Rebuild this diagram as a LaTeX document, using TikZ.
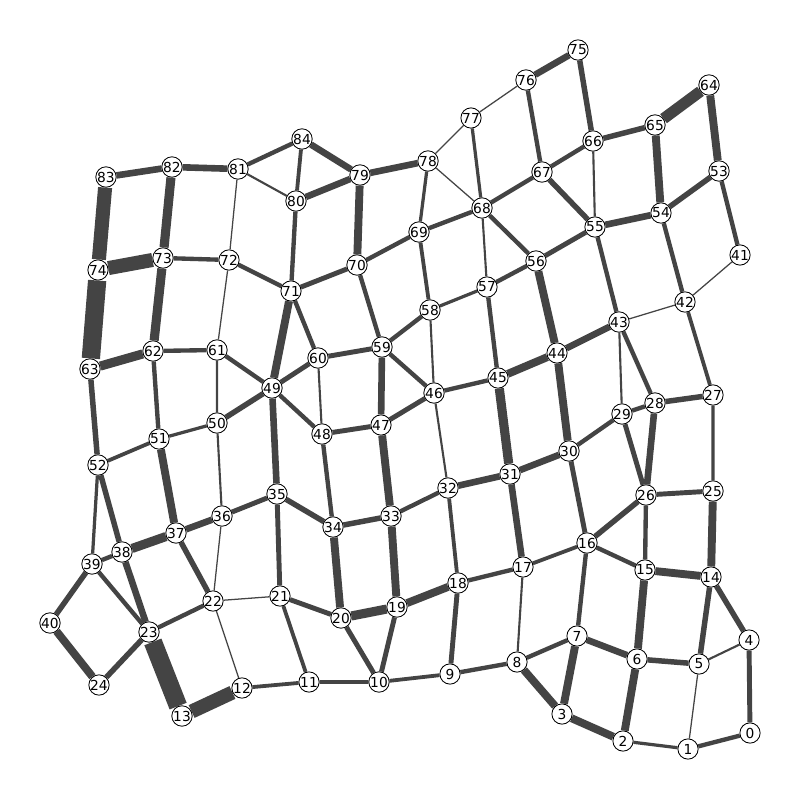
\documentclass[tikz,border=0pt]{standalone}
\usepackage{fontspec}
\setmainfont{DejaVu Sans}
\usepackage{xcolor}
\usepackage{tikz}
\usetikzlibrary{backgrounds}
\definecolor{EdgeGray}{HTML}{444444}
\tikzset{
  vertex/.style={
    circle,
    draw=black,
    line width=0.6pt,
    fill=white,
    inner sep=0pt,
    minimum size=14.4pt,
    font=\fontsize{9.8}{10}\selectfont
  },
  link/.style={draw=EdgeGray},
  wa/.style={link, line width=0.9pt},
  wb/.style={link, line width=1.5pt},
  wc/.style={link, line width=2.3pt},
  wd/.style={link, line width=2.7pt},
  we/.style={link, line width=3.1pt},
  wf/.style={link, line width=3.5pt},
  wg/.style={link, line width=3.9pt},
  wh/.style={link, line width=4.7pt},
  wi/.style={link, line width=5.6pt},
  wj/.style={link, line width=6.5pt},
  wk/.style={link, line width=8pt},
  wl/.style={link, line width=10pt},
  wm/.style={link, line width=13pt}
}

\begin{document}
\begin{tikzpicture}[x=0.025cm, y=-0.025cm]
\useasboundingbox (0,0) rectangle (800,800);
% vertices
\node[vertex] (n0) at (750,733) {0};
\node[vertex] (n1) at (688,749) {1};
\node[vertex] (n2) at (623,741) {2};
\node[vertex] (n3) at (562,714) {3};
\node[vertex] (n4) at (749,640) {4};
\node[vertex] (n5) at (699,664) {5};
\node[vertex] (n6) at (637,659) {6};
\node[vertex] (n7) at (577,636) {7};
\node[vertex] (n8) at (517,662) {8};
\node[vertex] (n9) at (450,674) {9};
\node[vertex] (n10) at (379,682) {10};
\node[vertex] (n11) at (309,682) {11};
\node[vertex] (n12) at (242,688) {12};
\node[vertex] (n13) at (182,716) {13};
\node[vertex] (n14) at (711,577) {14};
\node[vertex] (n15) at (645,570) {15};
\node[vertex] (n16) at (587,543) {16};
\node[vertex] (n17) at (523,567) {17};
\node[vertex] (n18) at (458,583) {18};
\node[vertex] (n19) at (397,607) {19};
\node[vertex] (n20) at (341,618) {20};
\node[vertex] (n21) at (280,596) {21};
\node[vertex] (n22) at (213,601) {22};
\node[vertex] (n23) at (149,632) {23};
\node[vertex] (n24) at (99,685) {24};
\node[vertex] (n25) at (713,491) {25};
\node[vertex] (n26) at (646,495) {26};
\node[vertex] (n27) at (713,395) {27};
\node[vertex] (n28) at (655,403) {28};
\node[vertex] (n29) at (622,414) {29};
\node[vertex] (n30) at (569,451) {30};
\node[vertex] (n31) at (510,474) {31};
\node[vertex] (n32) at (448,488) {32};
\node[vertex] (n33) at (391,516) {33};
\node[vertex] (n34) at (333,527) {34};
\node[vertex] (n35) at (277,494) {35};
\node[vertex] (n36) at (222,516) {36};
\node[vertex] (n37) at (176,533) {37};
\node[vertex] (n38) at (122,552) {38};
\node[vertex] (n39) at (92,564) {39};
\node[vertex] (n40) at (50,623) {40};
\node[vertex] (n41) at (740,255) {41};
\node[vertex] (n42) at (685,302) {42};
\node[vertex] (n43) at (619,322) {43};
\node[vertex] (n44) at (557,353) {44};
\node[vertex] (n45) at (498,378) {45};
\node[vertex] (n46) at (434,393) {46};
\node[vertex] (n47) at (381,425) {47};
\node[vertex] (n48) at (322,434) {48};
\node[vertex] (n49) at (272,388) {49};
\node[vertex] (n50) at (217,423) {50};
\node[vertex] (n51) at (159,439) {51};
\node[vertex] (n52) at (98,465) {52};
\node[vertex] (n53) at (719,171) {53};
\node[vertex] (n54) at (661,213) {54};
\node[vertex] (n55) at (595,227) {55};
\node[vertex] (n56) at (536,261) {56};
\node[vertex] (n57) at (487,287) {57};
\node[vertex] (n58) at (430,310) {58};
\node[vertex] (n59) at (382,347) {59};
\node[vertex] (n60) at (318,358) {60};
\node[vertex] (n61) at (217,350) {61};
\node[vertex] (n62) at (153,351) {62};
\node[vertex] (n63) at (90,369) {63};
\node[vertex] (n64) at (709,85) {64};
\node[vertex] (n65) at (655,125) {65};
\node[vertex] (n66) at (593,141) {66};
\node[vertex] (n67) at (542,172) {67};
\node[vertex] (n68) at (482,208) {68};
\node[vertex] (n69) at (419,232) {69};
\node[vertex] (n70) at (357,265) {70};
\node[vertex] (n71) at (291,291) {71};
\node[vertex] (n72) at (229,260) {72};
\node[vertex] (n73) at (163,258) {73};
\node[vertex] (n74) at (98,270) {74};
\node[vertex] (n75) at (578,50) {75};
\node[vertex] (n76) at (526,80) {76};
\node[vertex] (n77) at (471,118) {77};
\node[vertex] (n78) at (428,161) {78};
\node[vertex] (n79) at (360,175) {79};
\node[vertex] (n80) at (296,201) {80};
\node[vertex] (n81) at (238,169) {81};
\node[vertex] (n82) at (172,167) {82};
\node[vertex] (n83) at (106,177) {83};
\node[vertex] (n84) at (302,139) {84};
% weighted links, thinnest first
\begin{scope}[on background layer]
\draw[wa] (n81) -- (n72) (n61) -- (n72) (n36) -- (n22) (n22) -- (n21)
  (n22) -- (n12) (n5) -- (n1) (n41) -- (n42) (n43) -- (n42)
  (n78) -- (n77) (n77) -- (n76) (n78) -- (n68);
\draw[wb] (n81) -- (n80) (n66) -- (n55) (n68) -- (n57) (n58) -- (n46)
  (n60) -- (n48) (n43) -- (n29) (n17) -- (n8) (n61) -- (n50)
  (n50) -- (n36) (n46) -- (n32) (n5) -- (n4);
\draw[wc] (n78) -- (n69) (n77) -- (n68) (n57) -- (n58) (n52) -- (n39)
  (n27) -- (n25) (n50) -- (n51) (n2) -- (n1);
\draw[wd] (n84) -- (n80) (n69) -- (n58) (n42) -- (n27) (n21) -- (n11)
  (n12) -- (n11) (n32) -- (n18) (n17) -- (n16) (n11) -- (n10)
  (n10) -- (n9) (n52) -- (n51);
\draw[we] (n81) -- (n84) (n80) -- (n71) (n73) -- (n72) (n72) -- (n71)
  (n76) -- (n67) (n68) -- (n67) (n68) -- (n69) (n68) -- (n56)
  (n70) -- (n69) (n70) -- (n59) (n56) -- (n57) (n71) -- (n60)
  (n66) -- (n67) (n53) -- (n41) (n54) -- (n42) (n55) -- (n43)
  (n62) -- (n61) (n61) -- (n49) (n62) -- (n51) (n49) -- (n48)
  (n38) -- (n39) (n59) -- (n58) (n59) -- (n46) (n57) -- (n45)
  (n46) -- (n45) (n48) -- (n34) (n32) -- (n33) (n43) -- (n28)
  (n28) -- (n29) (n29) -- (n30) (n26) -- (n15) (n39) -- (n23)
  (n23) -- (n22) (n18) -- (n17) (n16) -- (n15) (n16) -- (n7)
  (n9) -- (n8) (n8) -- (n7) (n1) -- (n0);
\draw[wf] (n70) -- (n71) (n56) -- (n55) (n49) -- (n60) (n35) -- (n36)
  (n35) -- (n21) (n60) -- (n59) (n46) -- (n47) (n47) -- (n48)
  (n30) -- (n16) (n29) -- (n26) (n26) -- (n25) (n21) -- (n20)
  (n18) -- (n9) (n20) -- (n10) (n19) -- (n10) (n4) -- (n0);
\draw[wg] (n75) -- (n66) (n66) -- (n65) (n54) -- (n53) (n67) -- (n55)
  (n63) -- (n52) (n49) -- (n50) (n52) -- (n38) (n35) -- (n34)
  (n37) -- (n22) (n33) -- (n34) (n28) -- (n27) (n26) -- (n16)
  (n39) -- (n40) (n24) -- (n23) (n14) -- (n5) (n14) -- (n4)
  (n6) -- (n5);
\draw[wh] (n83) -- (n82) (n82) -- (n81) (n84) -- (n79) (n80) -- (n79)
  (n79) -- (n78) (n76) -- (n75) (n55) -- (n54) (n49) -- (n35)
  (n36) -- (n37) (n38) -- (n23) (n59) -- (n47) (n31) -- (n32)
  (n31) -- (n30) (n31) -- (n17) (n43) -- (n44) (n28) -- (n26)
  (n7) -- (n6);
\draw[wi] (n79) -- (n70) (n64) -- (n53) (n65) -- (n54) (n56) -- (n44)
  (n71) -- (n49) (n51) -- (n37) (n47) -- (n33) (n45) -- (n44)
  (n33) -- (n19) (n34) -- (n20) (n44) -- (n30) (n25) -- (n14)
  (n40) -- (n24) (n19) -- (n18) (n8) -- (n3) (n15) -- (n14)
  (n15) -- (n6) (n7) -- (n3) (n6) -- (n2) (n3) -- (n2);
\draw[wj] (n82) -- (n73) (n63) -- (n62) (n37) -- (n38) (n45) -- (n31)
  (n20) -- (n19) (n73) -- (n62);
\draw[wk] (n65) -- (n64);
\draw[wl] (n83) -- (n74) (n73) -- (n74) (n13) -- (n12);
\draw[wm] (n74) -- (n63) (n23) -- (n13);
\end{scope}
\end{tikzpicture}
\end{document}
